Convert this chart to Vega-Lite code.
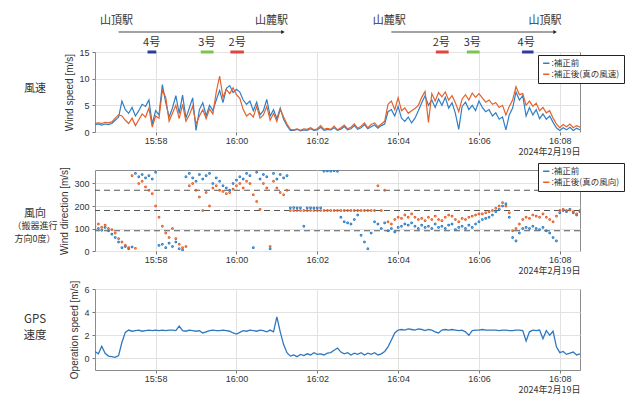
{
"$schema": "https://vega.github.io/schema/vega-lite/v6.json",
"padding": {"left": 12, "top": 14, "right": 0, "bottom": 0},
"bounds": "flush",
"spacing": 38,
"config": {
  "font": "Liberation Sans",
  "view": {"stroke": "#8c8c8c", "strokeWidth": 1},
  "axis": {"labelFontSize": 9, "labelColor": "#333", "titleFontSize": 10, "titleFontWeight": "normal", "titleColor": "#333", "gridColor": "#e2e2e2", "domain": false, "tickColor": "#777", "tickSize": 3, "labelPadding": 3, "labelOverlap": false},
  "text": {"font": "Noto Sans CJK JP", "color": "#333"}
},
"data": {"format": {"parse": {"t": "date:'%H:%M:%S'"}}, "values": [
{"t":"15:56:30","sp":1.4,"sq":1.6,"wp":95,"wq":110,"g":0.6},
{"t":"15:56:35","sp":1.5,"sq":1.7,"wp":100,"wq":120,"g":0.4},
{"t":"15:56:40","sp":1.3,"sq":1.6,"wp":92,"wq":105,"g":1.05},
{"t":"15:56:45","sp":1.5,"sq":1.8,"wp":105,"wq":115,"g":0.45},
{"t":"15:56:50","sp":1.4,"sq":1.7,"wp":90,"wq":100,"g":0.2},
{"t":"15:56:55","sp":1.6,"sq":1.9,"wp":75,"wq":95,"g":0.15},
{"t":"15:57:00","sp":2.2,"sq":2.6,"wp":60,"wq":80,"g":0.1},
{"t":"15:57:05","sp":2.8,"sq":3.2,"wp":40,"wq":55,"g":0.25},
{"t":"15:57:10","sp":5.8,"sq":3.0,"wp":15,"wq":40,"g":1.4},
{"t":"15:57:15","sp":4.2,"sq":2.2,"wp":20,"wq":25,"g":2.25},
{"t":"15:57:20","sp":3.5,"sq":1.6,"wp":10,"wq":15,"g":2.45},
{"t":"15:57:25","sp":4.6,"sq":2.6,"wp":18,"wq":335,"g":2.35},
{"t":"15:57:30","sp":3.0,"sq":1.2,"wp":345,"wq":12,"g":2.4},
{"t":"15:57:35","sp":4.0,"sq":2.3,"wp":330,"wq":300,"g":2.45},
{"t":"15:57:40","sp":5.2,"sq":3.4,"wp":340,"wq":310,"g":2.35},
{"t":"15:57:45","sp":4.8,"sq":2.8,"wp":325,"wq":285,"g":2.4},
{"t":"15:57:50","sp":6.0,"sq":4.5,"wp":335,"wq":270,"g":2.45},
{"t":"15:57:55","sp":1.5,"sq":0.9,"wp":320,"wq":255,"g":2.4},
{"t":"15:58:00","sp":4.0,"sq":3.0,"wp":350,"wq":200,"g":2.45},
{"t":"15:58:05","sp":3.2,"sq":2.6,"wp":25,"wq":150,"g":2.4},
{"t":"15:58:10","sp":8.9,"sq":7.8,"wp":30,"wq":110,"g":2.45},
{"t":"15:58:15","sp":5.5,"sq":6.5,"wp":15,"wq":80,"g":2.4},
{"t":"15:58:20","sp":2.8,"sq":2.0,"wp":35,"wq":60,"g":2.45},
{"t":"15:58:25","sp":4.5,"sq":3.5,"wp":20,"wq":100,"g":2.45},
{"t":"15:58:30","sp":6.8,"sq":5.0,"wp":40,"wq":55,"g":2.4},
{"t":"15:58:35","sp":3.5,"sq":2.5,"wp":10,"wq":30,"g":2.8},
{"t":"15:58:40","sp":6.9,"sq":5.2,"wp":5,"wq":15,"g":2.4},
{"t":"15:58:45","sp":2.6,"sq":2.0,"wp":330,"wq":20,"g":2.35},
{"t":"15:58:50","sp":4.5,"sq":3.2,"wp":345,"wq":290,"g":2.45},
{"t":"15:58:55","sp":6.4,"sq":4.8,"wp":325,"wq":300,"g":2.4},
{"t":"15:59:00","sp":0.3,"sq":1.5,"wp":310,"wq":270,"g":2.35},
{"t":"15:59:05","sp":4.2,"sq":3.0,"wp":340,"wq":240,"g":2.4},
{"t":"15:59:10","sp":5.5,"sq":4.2,"wp":320,"wq":180,"g":2.2},
{"t":"15:59:15","sp":3.0,"sq":2.5,"wp":335,"wq":260,"g":2.3},
{"t":"15:59:20","sp":5.0,"sq":4.3,"wp":345,"wq":200,"g":2.4},
{"t":"15:59:25","sp":4.0,"sq":3.4,"wp":300,"wq":280,"g":2.45},
{"t":"15:59:30","sp":6.0,"sq":7.5,"wp":325,"wq":290,"g":2.4},
{"t":"15:59:35","sp":7.8,"sq":10.5,"wp":310,"wq":270,"g":2.4},
{"t":"15:59:40","sp":5.5,"sq":6.5,"wp":290,"wq":265,"g":2.45},
{"t":"15:59:45","sp":8.2,"sq":8.0,"wp":280,"wq":255,"g":2.4},
{"t":"15:59:50","sp":8.7,"sq":7.2,"wp":270,"wq":260,"g":2.35},
{"t":"15:59:55","sp":7.4,"sq":8.3,"wp":300,"wq":275,"g":2.2},
{"t":"16:00:00","sp":8.0,"sq":7.0,"wp":315,"wq":290,"g":2.1},
{"t":"16:00:05","sp":7.5,"sq":6.3,"wp":330,"wq":300,"g":2.25},
{"t":"16:00:10","sp":6.0,"sq":4.2,"wp":320,"wq":280,"g":2.4},
{"t":"16:00:15","sp":5.2,"sq":3.0,"wp":345,"wq":310,"g":2.35},
{"t":"16:00:20","sp":5.8,"sq":3.5,"wp":335,"wq":300,"g":2.45},
{"t":"16:00:25","sp":4.0,"sq":2.8,"wp":15,"wq":250,"g":2.4},
{"t":"16:00:30","sp":5.6,"sq":4.8,"wp":350,"wq":220,"g":2.35},
{"t":"16:00:35","sp":3.2,"sq":2.6,"wp":320,"wq":185,"g":2.45},
{"t":"16:00:40","sp":4.0,"sq":3.2,"wp":340,"wq":300,"g":2.4},
{"t":"16:00:45","sp":6.1,"sq":4.8,"wp":330,"wq":280,"g":2.3},
{"t":"16:00:50","sp":3.0,"sq":2.2,"wp":10,"wq":20,"g":2.45},
{"t":"16:00:55","sp":4.2,"sq":3.5,"wp":345,"wq":310,"g":2.3},
{"t":"16:01:00","sp":2.5,"sq":2.0,"wp":320,"wq":280,"g":3.6},
{"t":"16:01:05","sp":4.5,"sq":4.2,"wp":340,"wq":260,"g":2.3},
{"t":"16:01:10","sp":2.4,"sq":2.8,"wp":325,"wq":250,"g":1.2},
{"t":"16:01:15","sp":1.2,"sq":1.5,"wp":335,"wq":270,"g":0.5},
{"t":"16:01:20","sp":0.3,"sq":0.5,"wp":192,"wq":180,"g":0.2},
{"t":"16:01:25","sp":0.3,"sq":0.4,"wp":193,"wq":180,"g":0.3},
{"t":"16:01:30","sp":0.5,"sq":0.6,"wp":192,"wq":180,"g":0.15},
{"t":"16:01:35","sp":0.2,"sq":0.3,"wp":192,"wq":180,"g":0.35},
{"t":"16:01:40","sp":0.4,"sq":0.6,"wp":110,"wq":180,"g":0.25},
{"t":"16:01:45","sp":0.3,"sq":0.5,"wp":192,"wq":180,"g":0.4},
{"t":"16:01:50","sp":0.6,"sq":0.8,"wp":192,"wq":180,"g":0.3},
{"t":"16:01:55","sp":0.3,"sq":0.4,"wp":191,"wq":180,"g":0.5},
{"t":"16:02:00","sp":0.4,"sq":0.6,"wp":192,"wq":180,"g":0.35},
{"t":"16:02:05","sp":0.9,"sq":1.2,"wp":192,"wq":180,"g":0.4},
{"t":"16:02:10","sp":0.3,"sq":0.5,"wp":355,"wq":180,"g":0.3},
{"t":"16:02:15","sp":0.5,"sq":0.7,"wp":356,"wq":180,"g":0.45},
{"t":"16:02:20","sp":0.4,"sq":0.5,"wp":355,"wq":180,"g":0.5},
{"t":"16:02:25","sp":0.8,"sq":1.1,"wp":357,"wq":180,"g":0.7},
{"t":"16:02:30","sp":0.3,"sq":0.4,"wp":354,"wq":180,"g":0.9},
{"t":"16:02:35","sp":0.5,"sq":0.8,"wp":150,"wq":180,"g":0.55},
{"t":"16:02:40","sp":1.0,"sq":1.3,"wp":130,"wq":180,"g":0.4},
{"t":"16:02:45","sp":0.4,"sq":0.6,"wp":125,"wq":180,"g":0.5},
{"t":"16:02:50","sp":0.6,"sq":0.9,"wp":120,"wq":180,"g":0.3},
{"t":"16:02:55","sp":1.2,"sq":1.5,"wp":140,"wq":180,"g":0.45},
{"t":"16:03:00","sp":0.5,"sq":0.7,"wp":160,"wq":180,"g":0.35},
{"t":"16:03:05","sp":0.8,"sq":1.1,"wp":70,"wq":180,"g":0.5},
{"t":"16:03:10","sp":1.4,"sq":1.7,"wp":40,"wq":180,"g":0.3},
{"t":"16:03:15","sp":0.6,"sq":0.8,"wp":10,"wq":180,"g":0.45},
{"t":"16:03:20","sp":1.0,"sq":1.4,"wp":80,"wq":180,"g":0.35},
{"t":"16:03:25","sp":1.3,"sq":1.7,"wp":130,"wq":180,"g":0.5},
{"t":"16:03:30","sp":0.7,"sq":1.0,"wp":120,"wq":290,"g":0.3},
{"t":"16:03:35","sp":1.2,"sq":1.5,"wp":100,"wq":180,"g":0.4},
{"t":"16:03:40","sp":1.5,"sq":2.0,"wp":125,"wq":270,"g":0.6},
{"t":"16:03:45","sp":3.8,"sq":5.2,"wp":90,"wq":130,"g":1.0},
{"t":"16:03:50","sp":4.2,"sq":5.8,"wp":100,"wq":120,"g":1.6},
{"t":"16:03:55","sp":3.0,"sq":4.2,"wp":85,"wq":140,"g":2.2},
{"t":"16:04:00","sp":4.8,"sq":6.4,"wp":105,"wq":150,"g":2.45},
{"t":"16:04:05","sp":2.6,"sq":4.0,"wp":110,"wq":145,"g":2.5},
{"t":"16:04:10","sp":2.0,"sq":4.5,"wp":120,"wq":160,"g":2.45},
{"t":"16:04:15","sp":2.8,"sq":3.5,"wp":115,"wq":150,"g":2.55},
{"t":"16:04:20","sp":1.7,"sq":4.0,"wp":125,"wq":165,"g":2.5},
{"t":"16:04:25","sp":2.6,"sq":4.4,"wp":110,"wq":150,"g":2.45},
{"t":"16:04:30","sp":4.0,"sq":5.0,"wp":100,"wq":140,"g":2.55},
{"t":"16:04:35","sp":5.5,"sq":6.5,"wp":115,"wq":145,"g":2.5},
{"t":"16:04:40","sp":6.8,"sq":7.6,"wp":105,"wq":135,"g":2.4},
{"t":"16:04:45","sp":5.0,"sq":1.8,"wp":110,"wq":150,"g":2.5},
{"t":"16:04:50","sp":6.0,"sq":7.2,"wp":100,"wq":140,"g":2.45},
{"t":"16:04:55","sp":4.6,"sq":5.8,"wp":120,"wq":155,"g":2.3},
{"t":"16:05:00","sp":6.2,"sq":7.4,"wp":105,"wq":140,"g":2.2},
{"t":"16:05:05","sp":5.0,"sq":6.6,"wp":110,"wq":135,"g":2.45},
{"t":"16:05:10","sp":6.5,"sq":7.5,"wp":100,"wq":150,"g":2.5},
{"t":"16:05:15","sp":4.5,"sq":6.0,"wp":115,"wq":160,"g":2.45},
{"t":"16:05:20","sp":5.5,"sq":6.8,"wp":120,"wq":155,"g":2.5},
{"t":"16:05:25","sp":3.5,"sq":5.5,"wp":95,"wq":140,"g":2.45},
{"t":"16:05:30","sp":0.5,"sq":3.8,"wp":105,"wq":130,"g":2.4},
{"t":"16:05:35","sp":4.8,"sq":6.2,"wp":110,"wq":145,"g":2.45},
{"t":"16:05:40","sp":5.6,"sq":7.0,"wp":100,"wq":140,"g":2.3},
{"t":"16:05:45","sp":4.2,"sq":6.0,"wp":115,"wq":150,"g":2.0},
{"t":"16:05:50","sp":5.0,"sq":7.3,"wp":105,"wq":155,"g":2.4},
{"t":"16:05:55","sp":4.0,"sq":6.5,"wp":120,"wq":160,"g":2.45},
{"t":"16:06:00","sp":5.8,"sq":7.2,"wp":130,"wq":165,"g":2.45},
{"t":"16:06:05","sp":4.6,"sq":6.4,"wp":140,"wq":165,"g":2.5},
{"t":"16:06:10","sp":3.8,"sq":5.6,"wp":145,"wq":170,"g":2.45},
{"t":"16:06:15","sp":4.2,"sq":6.0,"wp":150,"wq":175,"g":2.45},
{"t":"16:06:20","sp":3.0,"sq":5.2,"wp":160,"wq":180,"g":2.45},
{"t":"16:06:25","sp":3.6,"sq":5.5,"wp":175,"wq":190,"g":2.45},
{"t":"16:06:30","sp":2.4,"sq":4.6,"wp":185,"wq":200,"g":2.4},
{"t":"16:06:35","sp":2.8,"sq":5.0,"wp":200,"wq":215,"g":2.45},
{"t":"16:06:40","sp":0.4,"sq":3.2,"wp":210,"wq":200,"g":2.45},
{"t":"16:06:45","sp":3.2,"sq":4.8,"wp":150,"wq":170,"g":2.4},
{"t":"16:06:50","sp":4.5,"sq":6.0,"wp":60,"wq":90,"g":2.4},
{"t":"16:06:55","sp":7.5,"sq":8.5,"wp":45,"wq":100,"g":2.45},
{"t":"16:07:00","sp":6.0,"sq":7.0,"wp":80,"wq":120,"g":2.45},
{"t":"16:07:05","sp":6.8,"sq":7.2,"wp":100,"wq":140,"g":2.4},
{"t":"16:07:10","sp":3.0,"sq":5.0,"wp":105,"wq":150,"g":1.5},
{"t":"16:07:15","sp":4.6,"sq":5.8,"wp":100,"wq":145,"g":2.3},
{"t":"16:07:20","sp":3.2,"sq":4.8,"wp":110,"wq":160,"g":2.45},
{"t":"16:07:25","sp":4.2,"sq":5.4,"wp":100,"wq":155,"g":2.4},
{"t":"16:07:30","sp":2.5,"sq":4.0,"wp":95,"wq":150,"g":2.45},
{"t":"16:07:35","sp":3.4,"sq":4.6,"wp":105,"wq":165,"g":1.7},
{"t":"16:07:40","sp":2.4,"sq":3.6,"wp":90,"wq":150,"g":2.4},
{"t":"16:07:45","sp":3.0,"sq":4.0,"wp":80,"wq":140,"g":2.0},
{"t":"16:07:50","sp":1.8,"sq":2.6,"wp":60,"wq":130,"g":2.35},
{"t":"16:07:55","sp":0.8,"sq":1.5,"wp":45,"wq":155,"g":1.0},
{"t":"16:08:00","sp":0.3,"sq":0.8,"wp":170,"wq":180,"g":0.5},
{"t":"16:08:05","sp":0.8,"sq":1.4,"wp":180,"wq":185,"g":0.6},
{"t":"16:08:10","sp":0.4,"sq":1.0,"wp":175,"wq":180,"g":0.35},
{"t":"16:08:15","sp":0.9,"sq":1.5,"wp":185,"wq":182,"g":0.45},
{"t":"16:08:20","sp":0.3,"sq":0.8,"wp":170,"wq":175,"g":0.55},
{"t":"16:08:25","sp":0.7,"sq":1.2,"wp":160,"wq":165,"g":0.3},
{"t":"16:08:30","sp":0.4,"sq":0.9,"wp":175,"wq":180,"g":0.4}
]},
"resolve": {"scale": {"color": "independent"}, "legend": {"color": "independent"}},
"vconcat": [
{
  "width": 485, "height": 80,
  "encoding": {"x": {"field": "t", "type": "temporal", "scale": {"domain": [{"year":1900,"month":1,"date":1,"hours":15,"minutes":56,"seconds":30},{"year":1900,"month":1,"date":1,"hours":16,"minutes":8,"seconds":30}]},
    "axis": {"values": [{"year":1900,"month":1,"date":1,"hours":15,"minutes":58},{"year":1900,"month":1,"date":1,"hours":16,"minutes":0},{"year":1900,"month":1,"date":1,"hours":16,"minutes":2},{"year":1900,"month":1,"date":1,"hours":16,"minutes":4},{"year":1900,"month":1,"date":1,"hours":16,"minutes":6},{"year":1900,"month":1,"date":1,"hours":16,"minutes":8}], "format": "%H:%M", "title": "2024年2月19日", "titleAnchor": "end", "titleFont": "Noto Sans CJK JP", "titleFontSize": 9, "titleY": 15, "titleBaseline": "top", "labelPadding": 1}},
    "y": {"type": "quantitative", "scale": {"domain": [0, 15]}, "axis": {"values": [0, 5, 10, 15], "title": "Wind speed [m/s]", "grid": true}}},
  "layer": [
    {"transform": [{"fold": ["sp", "sq"], "as": ["k", "v"]}],
     "mark": {"type": "line", "strokeWidth": 1.2, "clip": true},
     "encoding": {
       "y": {"field": "v", "type": "quantitative"},
       "color": {"field": "k", "type": "nominal", "scale": {"domain": ["sp", "sq"], "range": ["#2f7fc5", "#e2622b"]},
         "legend": {"orient": "none", "legendX": 443, "legendY": 3, "title": null, "symbolType": "stroke", "symbolSize": 40, "symbolStrokeWidth": 1.5, "labelFontSize": 8.5, "labelFont": "Noto Sans CJK JP", "labelColor": "#333", "fillColor": "white", "strokeColor": "#222", "padding": 4, "rowPadding": 2, "labelOffset": 1,
           "labelExpr": "datum.value == 'sp' ? ':補正前' : ':補正後(真の風速)'"}}
     }},
    {"data": {"format": {"parse": {"t0": "date:'%H:%M:%S'", "t1": "date:'%H:%M:%S'", "tm": "date:'%H:%M:%S'"}}, "values": [
       {"t0":"15:57:48","t1":"15:58:01","tm":"15:57:54","n":"4号"},
       {"t0":"15:59:07","t1":"15:59:26","tm":"15:59:16","n":"3号"},
       {"t0":"15:59:51","t1":"16:00:11","tm":"16:00:01","n":"2号"},
       {"t0":"16:04:56","t1":"16:05:15","tm":"16:05:04","n":"2号"},
       {"t0":"16:05:42","t1":"16:06:01","tm":"16:05:50","n":"3号"},
       {"t0":"16:07:04","t1":"16:07:21","tm":"16:07:10","n":"4号"}]},
     "layer": [
       {"mark": {"type": "rule", "strokeWidth": 3},
        "encoding": {"x": {"field": "t0", "type": "temporal"}, "x2": {"field": "t1"}, "y": {"datum": 15, "type": "quantitative"},
          "stroke": {"field": "n", "type": "nominal", "scale": {"domain": ["4号", "3号", "2号"], "range": ["#2a3c9c", "#7cc44c", "#e0443c"]}, "legend": null}}},
       {"mark": {"type": "text", "fontSize": 11, "baseline": "middle"},
        "encoding": {"x": {"field": "tm", "type": "temporal"}, "y": {"datum": 16.7, "type": "quantitative"}, "text": {"field": "n"}}}
     ]},
    {"data": {"format": {"parse": {"t": "date:'%H:%M:%S'"}}, "values": [
       {"t":"15:57:02","s":"山頂駅"},{"t":"16:00:52","s":"山麓駅"},{"t":"16:03:47","s":"山麓駅"},{"t":"16:07:38","s":"山頂駅"}]},
     "mark": {"type": "text", "fontSize": 11, "baseline": "middle"},
     "encoding": {"y": {"datum": 20.8, "type": "quantitative"}, "text": {"field": "s"}}},
    {"data": {"format": {"parse": {"t0": "date:'%H:%M:%S'", "t1": "date:'%H:%M:%S'"}}, "values": [
       {"t0":"15:57:05","t1":"16:01:09"},{"t0":"16:03:50","t1":"16:07:53"}]},
     "layer": [
       {"mark": {"type": "rule", "strokeWidth": 1, "color": "#444"},
        "encoding": {"x": {"field": "t0", "type": "temporal"}, "x2": {"field": "t1"}, "y": {"datum": 18.75, "type": "quantitative"}}},
       {"mark": {"type": "point", "shape": "triangle-right", "filled": true, "size": 16, "color": "#222", "opacity": 1},
        "encoding": {"x": {"field": "t1", "type": "temporal"}, "y": {"datum": 18.75, "type": "quantitative"}}}
     ]},
    {"data": {"format": {"parse": {"t": "date:'%H:%M:%S'"}}, "values": [{"t":"15:55:01","s":"風速"}]},
     "mark": {"type": "text", "fontSize": 11, "baseline": "middle"},
     "encoding": {"y": {"datum": 8.0, "type": "quantitative"}, "text": {"field": "s"}}}
  ]
},
{
  "width": 485, "height": 81,
  "encoding": {"x": {"field": "t", "type": "temporal", "scale": {"domain": [{"year":1900,"month":1,"date":1,"hours":15,"minutes":56,"seconds":30},{"year":1900,"month":1,"date":1,"hours":16,"minutes":8,"seconds":30}]},
    "axis": {"values": [{"year":1900,"month":1,"date":1,"hours":15,"minutes":58},{"year":1900,"month":1,"date":1,"hours":16,"minutes":0},{"year":1900,"month":1,"date":1,"hours":16,"minutes":2},{"year":1900,"month":1,"date":1,"hours":16,"minutes":4},{"year":1900,"month":1,"date":1,"hours":16,"minutes":6},{"year":1900,"month":1,"date":1,"hours":16,"minutes":8}], "format": "%H:%M", "title": "2024年2月19日", "titleAnchor": "end", "titleFont": "Noto Sans CJK JP", "titleFontSize": 9, "titleY": 15, "titleBaseline": "top", "labelPadding": 1}},
    "y": {"type": "quantitative", "scale": {"domain": [0, 360]}, "axis": {"values": [0, 100, 200, 300], "title": "Wind direction [m/s]", "grid": true}}},
  "layer": [
    {"data": {"values": [{"v": 90}, {"v": 180}, {"v": 270}]},
     "mark": {"type": "rule", "strokeDash": [6, 4], "strokeWidth": 1, "color": "#555"},
     "encoding": {"x": null, "y": {"field": "v", "type": "quantitative"}}},
    {"transform": [{"fold": ["wp", "wq"], "as": ["k", "v"]}],
     "mark": {"type": "point", "filled": false, "size": 3, "strokeWidth": 1.1, "clip": true, "opacity": 1},
     "encoding": {
       "y": {"field": "v", "type": "quantitative"},
       "color": {"field": "k", "type": "nominal", "scale": {"domain": ["wp", "wq"], "range": ["#2f7fc5", "#e2622b"]},
         "legend": {"orient": "none", "legendX": 443, "legendY": -7, "title": null, "symbolType": "stroke", "symbolSize": 40, "symbolStrokeWidth": 1.5, "labelFontSize": 8.5, "labelFont": "Noto Sans CJK JP", "labelColor": "#333", "fillColor": "white", "strokeColor": "#222", "padding": 4, "rowPadding": 2, "labelOffset": 1,
           "labelExpr": "datum.value == 'wp' ? ':補正前' : ':補正後(真の風向)'"}}
     }},
    {"data": {"format": {"parse": {"t": "date:'%H:%M:%S'"}}, "values": [{"t":"15:55:01","s":"風向"}]},
     "mark": {"type": "text", "fontSize": 11, "baseline": "middle"},
     "encoding": {"y": {"datum": 166, "type": "quantitative"}, "text": {"field": "s"}}},
    {"data": {"format": {"parse": {"t": "date:'%H:%M:%S'"}}, "values": [{"t":"15:55:01","s":"（搬器進行"}]},
     "mark": {"type": "text", "fontSize": 9, "baseline": "middle"},
     "encoding": {"y": {"datum": 112, "type": "quantitative"}, "text": {"field": "s"}}},
    {"data": {"format": {"parse": {"t": "date:'%H:%M:%S'"}}, "values": [{"t":"15:55:01","s":"方向0度）"}]},
     "mark": {"type": "text", "fontSize": 9, "baseline": "middle"},
     "encoding": {"y": {"datum": 54, "type": "quantitative"}, "text": {"field": "s"}}}
  ]
},
{
  "width": 485, "height": 81,
  "encoding": {"x": {"field": "t", "type": "temporal", "scale": {"domain": [{"year":1900,"month":1,"date":1,"hours":15,"minutes":56,"seconds":30},{"year":1900,"month":1,"date":1,"hours":16,"minutes":8,"seconds":30}]},
    "axis": {"values": [{"year":1900,"month":1,"date":1,"hours":15,"minutes":58},{"year":1900,"month":1,"date":1,"hours":16,"minutes":0},{"year":1900,"month":1,"date":1,"hours":16,"minutes":2},{"year":1900,"month":1,"date":1,"hours":16,"minutes":4},{"year":1900,"month":1,"date":1,"hours":16,"minutes":6},{"year":1900,"month":1,"date":1,"hours":16,"minutes":8}], "format": "%H:%M", "title": "2024年2月19日", "titleAnchor": "end", "titleFont": "Noto Sans CJK JP", "titleFontSize": 9, "titleY": 15, "titleBaseline": "top", "labelPadding": 1}},
    "y": {"type": "quantitative", "scale": {"domain": [-1, 6]}, "axis": {"values": [0, 2, 4, 6], "title": "Operation speed [m/s]", "grid": true}}},
  "layer": [
    {"mark": {"type": "line", "strokeWidth": 1.3, "color": "#2f78c0", "clip": true},
     "encoding": {"y": {"field": "g", "type": "quantitative"}}},
    {"data": {"format": {"parse": {"t": "date:'%H:%M:%S'"}}, "values": [{"t":"15:55:01","s":"GPS"}]},
     "mark": {"type": "text", "fontSize": 11.5, "baseline": "middle"},
     "encoding": {"y": {"datum": 3.35, "type": "quantitative"}, "text": {"field": "s"}}},
    {"data": {"format": {"parse": {"t": "date:'%H:%M:%S'"}}, "values": [{"t":"15:55:01","s":"速度"}]},
     "mark": {"type": "text", "fontSize": 11.5, "baseline": "middle"},
     "encoding": {"y": {"datum": 1.95, "type": "quantitative"}, "text": {"field": "s"}}}
  ]
}
]
}
